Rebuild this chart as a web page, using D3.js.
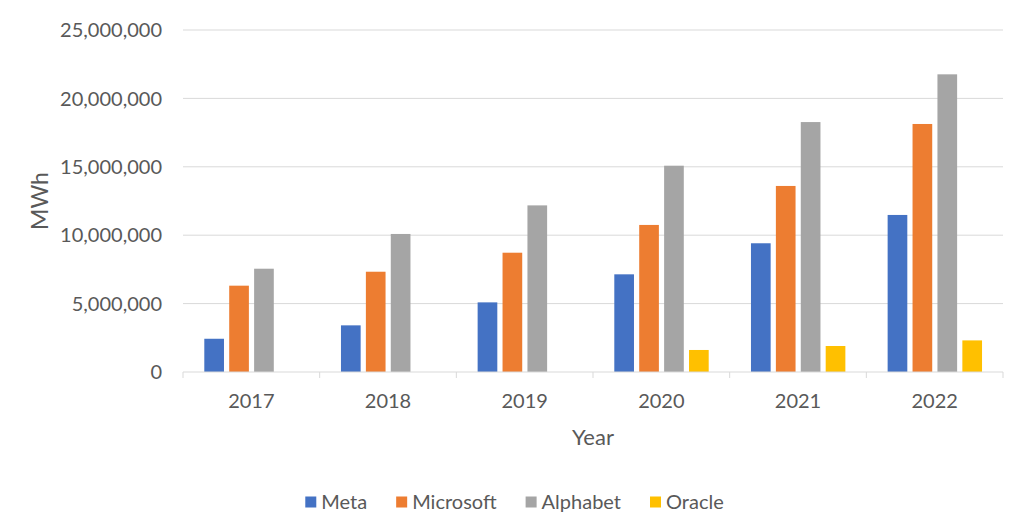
<!DOCTYPE html>
<html>
<head>
<meta charset="utf-8">
<script src="https://cdn.jsdelivr.net/npm/d3@7"></script>
<style>
  body { margin: 0; background: #fff; }
  text { font-family: Lato, "Open Sans", sans-serif; fill: #595959; }
</style>
</head>
<body>
<svg id="chart" width="1024" height="519"></svg>
<script>
const years = ['2017', '2018', '2019', '2020', '2021', '2022']
const series = ['Meta', 'Microsoft', 'Alphabet', 'Oracle']
const meta = [2430000, 3410000, 5090000, 7140000, 9410000, 11480000]
const microsoft = [6310000, 7330000, 8720000, 10750000, 13600000, 18130000]
const alphabet = [7550000, 10090000, 12180000, 15080000, 18270000, 21760000]
const oracle = [0, 0, 0, 1610000, 1900000, 2310000]
const yTicks = [0, 5000000, 10000000, 15000000, 20000000, 25000000]
const colors = ['#4472C4', '#ED7D31', '#A5A5A5', '#FFC000']

const values = [meta, microsoft, alphabet, oracle]
const rows = years.map((y, i) => ({ year: y, vals: series.map((s, j) => ({ name: s, v: values[j][i] })) }))

const svg = d3.select('#chart')
const mLeft = 183, mRight = 1003, mTop = 30, mBottom = 372

let x0 = d3.scaleBand().domain(years).range([mLeft, mRight]).padding(0)
let x1 = d3.scaleBand().domain(series).range([21.3, 115.7]).paddingInner(0.21)
let y = d3.scaleLinear().domain([0, 25000000]).range([mBottom, mTop])
let format = d3.format(',d')

// gridlines
svg.append('g')
    .selectAll('line')
    .data(yTicks.slice(1))
    .join('line')
    .attr('x1', mLeft).attr('x2', mRight)
    .attr('y1', d => y(d)).attr('y2', d => y(d))
    .attr('stroke', '#d9d9d9').attr('stroke-width', 1)

// y labels
svg.append('g')
    .selectAll('text')
    .data(yTicks)
    .join('text')
    .attr('x', 162)
    .attr('y', d => y(d))
    .attr('dy', '0.36em')
    .style('text-anchor', 'end')
    .style('font-size', '20px')
    .text(d => format(d))

// bars
svg.append('g')
    .selectAll('g')
    .data(rows)
    .join('g')
    .attr('transform', d => `translate(${x0(d.year)},0)`)
    .selectAll('rect')
    .data(d => d.vals.filter(e => e.v > 0))
    .join('rect')
    .attr('x', d => x1(d.name))
    .attr('width', x1.bandwidth())
    .attr('y', d => y(d.v))
    .attr('height', d => y(0) - y(d.v))
    .attr('fill', d => colors[series.indexOf(d.name)])

// x axis
let xAxis = svg.append('g').attr('transform', `translate(0,${mBottom})`)
xAxis.append('line').attr('x1', mLeft).attr('x2', mRight).attr('stroke', '#d9d9d9')
xAxis.selectAll('line.tick')
    .data(years.map(d => x0(d)).concat([mRight]))
    .join('line')
    .attr('class', 'tick')
    .attr('x1', d => d).attr('x2', d => d)
    .attr('y1', 0).attr('y2', 6)
    .attr('stroke', '#d9d9d9')
xAxis.selectAll('text')
    .data(years)
    .join('text')
    .attr('x', d => x0(d) + x0.bandwidth() / 2)
    .attr('y', 36)
    .style('text-anchor', 'middle')
    .style('font-size', '20px')
    .text(d => d)

// axis titles
svg.append('text')
    .attr('x', (mLeft + mRight) / 2)
    .attr('y', 445)
    .style('text-anchor', 'middle')
    .style('font-size', '22px')
    .text('Year')

svg.append('text')
    .attr('transform', `translate(48,201) rotate(-90)`)
    .style('text-anchor', 'middle')
    .style('font-size', '23px')
    .text('MWh')

// legend
let legend = svg.append('g')
let lx = 0
series.forEach((s, i) => {
    let g = legend.append('g').attr('transform', `translate(${lx},0)`)
    g.append('rect').attr('x', 0).attr('y', -5.5).attr('width', 11).attr('height', 11).attr('fill', colors[i])
    let t = g.append('text').attr('x', 16).attr('dy', '0.36em').style('font-size', '20px').text(s)
    lx += 16 + t.node().getComputedTextLength() + 29
})
lx -= 29
legend.attr('transform', `translate(${514.5 - lx / 2},502)`)
</script>
</body>
</html>
